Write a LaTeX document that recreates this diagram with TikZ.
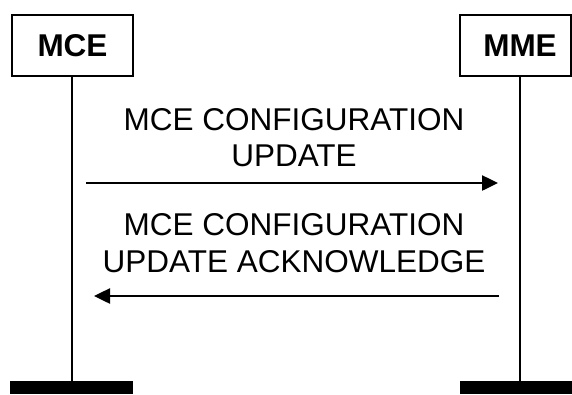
\documentclass[tikz,border=0pt]{standalone}
\usepackage{fontspec}
\setmainfont{Liberation Sans}
\usetikzlibrary{arrows.meta}
\begin{document}
\begin{tikzpicture}[x=1pt,y=-1pt,
  entity/.style={draw,line width=2pt,minimum height=61pt,inner sep=0pt,font=\fontsize{31.5}{36.5}\selectfont\bfseries},
  msglabel/.style={align=center,inner sep=0pt,font=\fontsize{31.5}{36.5}\selectfont},
  lifeline/.style={line width=1.5pt},
  msg/.style={line width=2.5pt,-{Triangle[length=16pt,width=15pt]}},
  endbar/.style={fill=black,draw=none}]
\useasboundingbox (0,0) rectangle (572,394);
\node[entity,minimum width=121pt] (mce) at (72.5,45.5) {MCE};
\node[entity,minimum width=111pt] (mme) at (515.5,45.5) {\hspace*{9pt}MME};
\coordinate (mceend) at (72,381);
\coordinate (mmeend) at (520,381);
\draw[lifeline] (mce.south -| mceend) -- (mceend);
\draw[lifeline] (mme.south -| mmeend) -- (mmeend);
\node[endbar,minimum width=123pt,minimum height=13pt,inner sep=0pt] (barl) at (71.5,387.5) {};
\node[endbar,minimum width=112pt,minimum height=13pt,inner sep=0pt] (barr) at (516,387.5) {};
\node[msglabel] (l1) at (294,137.7) {MCE CONFIGURATION\\UPDATE};
\node[msglabel] (l2) at (294,243.2) {MCE CONFIGURATION\\UPDATE ACKNOWLEDGE};
\coordinate (a1s) at (86,183);
\coordinate (a1e) at (498,183);
\coordinate (a2s) at (499,296);
\coordinate (a2e) at (94,296);
\draw[msg] (a1s) -- (a1e);
\draw[msg] (a2s) -- (a2e);
\end{tikzpicture}
\end{document}
